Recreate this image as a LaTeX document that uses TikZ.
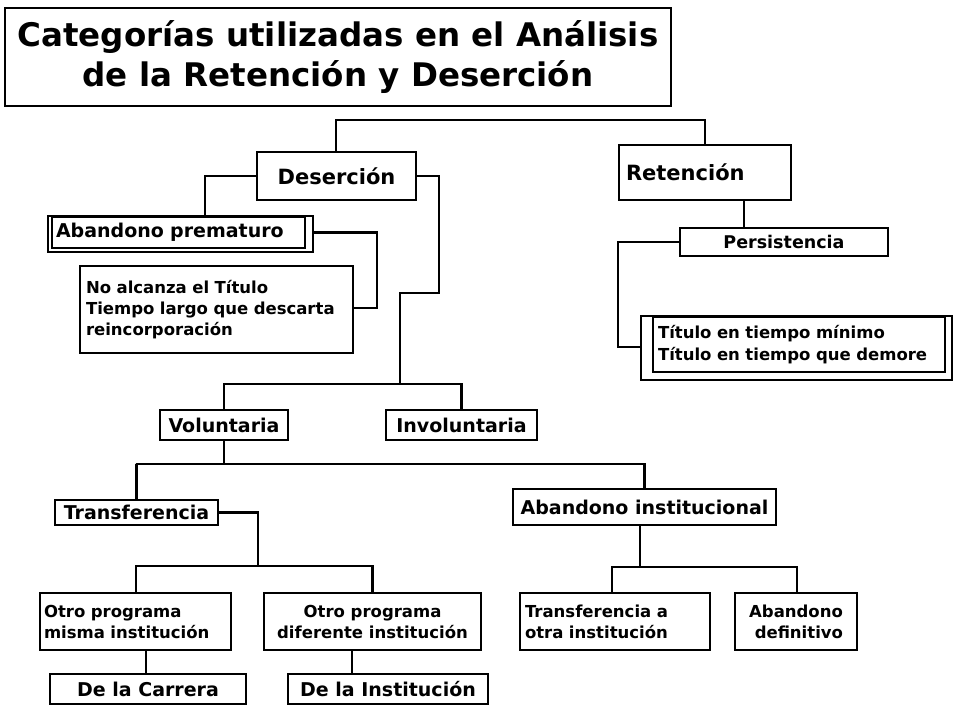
\documentclass[tikz,border=0pt]{standalone}
\usepackage{fontspec}
\setmainfont{DejaVu Sans}
\begin{document}
\begin{tikzpicture}[x=1pt,y=-1pt,
  box/.style={draw,line width=1.2pt,rectangle,inner sep=0pt,font=\bfseries},
  ln/.style={line width=2.2pt},
  lt/.style={font=\bfseries\fontsize{19}{22}\selectfont}]
\useasboundingbox (0,0) rectangle (960,720);
% title
\node[box,minimum width=666,minimum height=98,align=center,font=\bfseries\fontsize{32.5}{40}\selectfont] (title) at (338,57) {Categorías utilizadas en el Análisis\\de la Retención y Deserción};
\node[box,minimum width=159,minimum height=48,font=\bfseries\fontsize{21}{24}\selectfont] (des) at (336.5,176) {Deserción};
\node[box,minimum width=172,minimum height=55,text width=158,align=left,font=\bfseries\fontsize{21}{24}\selectfont] (ret) at (705,172.5) {Retención};
% abandono prematuro (double)
\draw[line width=1.2pt] (48,216) rectangle (313,252);
\node[box,minimum width=253,minimum height=31,text width=245,align=left,lt] (ap) at (178.5,232.5) {Abandono\ prematuro};
\node[box,minimum width=273,minimum height=87,text width=261,align=left,font=\bfseries\fontsize{16.5}{21}\selectfont] (na) at (216.5,309.5) {No alcanza el Título\\Tiempo largo que descarta\\reincorporación};
\node[box,minimum width=208,minimum height=28,font=\bfseries\fontsize{17.5}{21}\selectfont] (per) at (784,242) {Persistencia};
\draw[line width=1.2pt] (641,316) rectangle (952,380);
\node[box,minimum width=292,minimum height=55,text width=282,align=left,font=\bfseries\fontsize{16.5}{22}\selectfont] (tit) at (799,344.5) {Título en tiempo mínimo\\Título en tiempo que demore};
\node[box,minimum width=128,minimum height=30,lt] (vol) at (224,425) {Voluntaria};
\node[box,minimum width=151,minimum height=30,lt] (inv) at (461.5,425) {Involuntaria};
\node[box,minimum width=163,minimum height=25,lt] (tra) at (136.5,512.5) {Transferencia};
\node[box,minimum width=263,minimum height=36,lt] (abi) at (644.5,507) {Abandono\ institucional};
\node[box,minimum width=191,minimum height=57,text width=183,align=left,font=\bfseries\fontsize{16.5}{21}\selectfont] (op1) at (135.5,621.5) {Otro programa\\misma institución};
\node[box,minimum width=217,minimum height=57,align=center,font=\bfseries\fontsize{16.5}{21}\selectfont] (op2) at (372.5,621.5) {Otro programa\\diferente\ institución};
\node[box,minimum width=190,minimum height=57,text width=180,align=left,font=\bfseries\fontsize{16.5}{21}\selectfont] (ta) at (615,621.5) {Transferencia a\\otra\ institución};
\node[box,minimum width=122,minimum height=57,align=center,font=\bfseries\fontsize{16.5}{21}\selectfont] (ad) at (796,621.5) {Abandono\\\ definitivo};
\node[box,minimum width=196,minimum height=30,lt] (car) at (148,689) {De la Carrera};
\node[box,minimum width=200,minimum height=30,lt] (ins) at (388,689) {De la Institución};
% connectors
\draw[ln] (des.north -| 336,0) -- (336,120) -| (ret.north);
\draw[ln] (des.west) -| (ap.north -| 205,0);
\draw[ln] (ap.east) ++(8,0) -- (377,232.5) |- (na.east |- 0,308);
\draw[ln] (des.east) -| (439,293) -| (400,385);
\draw[ln] (vol.north) |- (240,384) -| (inv.north);
\draw[ln] (vol.south) -- (224,464);
\draw[ln] (tra.north) |- (136,464) -| (abi.north);
\draw[ln] (tra.east) -| (258,566);
\draw[ln] (op1.north -| 136,0) |- (136,566) -| (op2.north);
\draw[ln] (abi.south -| 640,0) -- (640,567);
\draw[ln] (ta.north -| 612,0) |- (612,567) -| (ad.north -| 797,0);
\draw[ln] (op1.south -| 146,0) -- (car.north -| 146,0);
\draw[ln] (op2.south -| 352,0) -- (ins.north -| 352,0);
\draw[ln] (ret.south -| 744,0) -- (per.north -| 744,0);
\draw[ln] (per.west) -| (618,347) -- (641,347);
\end{tikzpicture}
\end{document}
